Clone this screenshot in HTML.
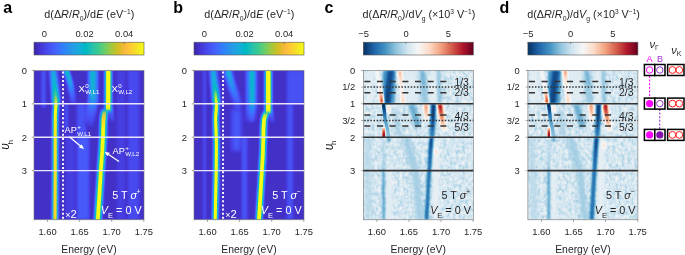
<!DOCTYPE html>
<html><head><meta charset="utf-8"><style>html,body{margin:0;padding:0;background:#fff;}svg{display:block;will-change:transform;}</style></head>
<body><svg width="685" height="255" viewBox="0 0 685 255" font-family='"Liberation Sans", sans-serif'><defs><filter id="par" x="0" y="0" width="685" height="255" filterUnits="userSpaceOnUse" color-interpolation-filters="sRGB"><feComponentTransfer><feFuncR type="table" tableValues="0.2431 0.2510 0.2588 0.2627 0.2706 0.2745 0.2784 0.2784 0.2824 0.2824 0.2784 0.2745 0.2706 0.2588 0.2431 0.2196 0.1961 0.1843 0.1804 0.1765 0.1686 0.1529 0.1451 0.1373 0.1255 0.1098 0.0941 0.0706 0.0314 0.0039 0.0078 0.0431 0.0980 0.1412 0.1725 0.1922 0.2157 0.2471 0.2902 0.3412 0.3922 0.4471 0.5059 0.5608 0.6157 0.6706 0.7255 0.7725 0.8196 0.8627 0.9020 0.9412 0.9725 0.9961 0.9961 0.9961 0.9882 0.9804 0.9686 0.9608 0.9608 0.9647 0.9686 0.9765"/><feFuncG type="table" tableValues="0.1490 0.1647 0.1804 0.1961 0.2157 0.2353 0.2549 0.2784 0.3020 0.3216 0.3451 0.3686 0.3882 0.4118 0.4353 0.4588 0.4863 0.5059 0.5294 0.5490 0.5686 0.5882 0.6078 0.6275 0.6471 0.6627 0.6784 0.6941 0.7098 0.7216 0.7294 0.7412 0.7490 0.7569 0.7686 0.7765 0.7843 0.7922 0.7961 0.8000 0.8039 0.8039 0.8000 0.7961 0.7882 0.7804 0.7686 0.7608 0.7490 0.7412 0.7333 0.7294 0.7294 0.7451 0.7647 0.7882 0.8118 0.8392 0.8627 0.8902 0.9137 0.9373 0.9608 0.9843"/><feFuncB type="table" tableValues="0.6588 0.7059 0.7529 0.7961 0.8353 0.8706 0.8980 0.9216 0.9412 0.9569 0.9725 0.9843 0.9922 0.9961 1.0000 0.9961 0.9882 0.9804 0.9686 0.9529 0.9373 0.9216 0.9098 0.8980 0.8902 0.8745 0.8588 0.8392 0.8157 0.7922 0.7647 0.7412 0.7137 0.6824 0.6549 0.6235 0.5922 0.5569 0.5176 0.4784 0.4353 0.3922 0.3490 0.3059 0.2627 0.2235 0.1922 0.1647 0.1529 0.1608 0.1765 0.2118 0.2392 0.2353 0.2196 0.2039 0.1882 0.1765 0.1647 0.1529 0.1412 0.1255 0.1059 0.0824"/></feComponentTransfer></filter><filter id="rdb" x="0" y="0" width="685" height="255" filterUnits="userSpaceOnUse" color-interpolation-filters="sRGB"><feComponentTransfer><feFuncR type="table" tableValues="0.0196 0.1294 0.2627 0.5725 0.8196 0.9686 0.9922 0.9569 0.8392 0.6980 0.4039"/><feFuncG type="table" tableValues="0.1882 0.4000 0.5765 0.7725 0.8980 0.9686 0.8588 0.6471 0.3765 0.0941 0.0000"/><feFuncB type="table" tableValues="0.3804 0.6745 0.7647 0.8706 0.9412 0.9686 0.7804 0.5098 0.3020 0.1686 0.1216"/></feComponentTransfer></filter><filter id="noise" x="0" y="0" width="685" height="255" filterUnits="userSpaceOnUse" color-interpolation-filters="sRGB"><feTurbulence type="fractalNoise" baseFrequency="0.32 0.26" numOctaves="2" seed="3"/><feColorMatrix type="matrix" values="1 0 0 0 0  1 0 0 0 0  1 0 0 0 0  0 0 0 0 0.24"/><feGaussianBlur stdDeviation="0.5"/></filter><linearGradient id="gcb" x1="0" y1="0" x2="1" y2="0"><stop offset="0" stop-color="#000"/><stop offset="1" stop-color="#fff"/></linearGradient><clipPath id="clipa"><rect x="34.00" y="70.40" width="110.00" height="149.40"/></clipPath><linearGradient id="g1" gradientUnits="userSpaceOnUse" x1="0" y1="70.40" x2="0" y2="104.00"><stop offset="0.0000" stop-color="#4c4c4c"/><stop offset="0.4048" stop-color="#404040"/><stop offset="0.7619" stop-color="#262626"/><stop offset="1.0000" stop-color="#141414"/></linearGradient><linearGradient id="g2" gradientUnits="userSpaceOnUse" x1="0" y1="70.40" x2="0" y2="104.00"><stop offset="0.0000" stop-color="#919191"/><stop offset="0.1667" stop-color="#7a7a7a"/><stop offset="0.4048" stop-color="#616161"/><stop offset="0.6428" stop-color="#404040"/><stop offset="1.0000" stop-color="#1a1a1a"/></linearGradient><linearGradient id="g3" gradientUnits="userSpaceOnUse" x1="0" y1="70.40" x2="0" y2="126.00"><stop offset="0.0000" stop-color="#4c4c4c"/><stop offset="0.5324" stop-color="#454545"/><stop offset="0.7482" stop-color="#2e2e2e"/><stop offset="1.0000" stop-color="#141414"/></linearGradient><linearGradient id="g4" gradientUnits="userSpaceOnUse" x1="0" y1="70.40" x2="0" y2="110.00"><stop offset="0.0000" stop-color="#787878"/><stop offset="0.6212" stop-color="#6e6e6e"/><stop offset="1.0000" stop-color="#333333"/></linearGradient><linearGradient id="g5" gradientUnits="userSpaceOnUse" x1="0" y1="70.40" x2="0" y2="104.00"><stop offset="0.0000" stop-color="#383838"/><stop offset="0.4345" stop-color="#4c4c4c"/><stop offset="0.7321" stop-color="#666666"/><stop offset="1.0000" stop-color="#808080"/></linearGradient><linearGradient id="g6" gradientUnits="userSpaceOnUse" x1="0" y1="70.40" x2="0" y2="104.00"><stop offset="0.0000" stop-color="#6b6b6b"/><stop offset="0.4345" stop-color="#7a7a7a"/><stop offset="0.7321" stop-color="#999999"/><stop offset="1.0000" stop-color="#a6a6a6"/></linearGradient><linearGradient id="g7" gradientUnits="userSpaceOnUse" x1="0" y1="94.00" x2="0" y2="104.50"><stop offset="0.0001" stop-color="rgb(250, 210, 50)" stop-opacity="0"/><stop offset="0.5714" stop-color="rgb(250, 210, 50)" stop-opacity="0.6"/><stop offset="0.9999" stop-color="rgb(249, 251, 21)" stop-opacity="1"/></linearGradient><linearGradient id="g8" gradientUnits="userSpaceOnUse" x1="0" y1="104.00" x2="0" y2="219.80"><stop offset="0.0000" stop-color="rgb(249, 251, 21)" stop-opacity="1"/><stop offset="0.3109" stop-color="rgb(250, 226, 40)" stop-opacity="1"/><stop offset="1.0000" stop-color="rgb(251, 210, 45)" stop-opacity="1"/></linearGradient><linearGradient id="g9" gradientUnits="userSpaceOnUse" x1="0" y1="70.40" x2="0" y2="110.50"><stop offset="0.0000" stop-color="rgb(249, 251, 21)" stop-opacity="1"/><stop offset="0.9376" stop-color="rgb(249, 251, 21)" stop-opacity="1"/><stop offset="1.0000" stop-color="rgb(249, 251, 21)" stop-opacity="0.3"/></linearGradient><linearGradient id="g10" gradientUnits="userSpaceOnUse" x1="0" y1="108.00" x2="0" y2="121.00"><stop offset="0.0001" stop-color="#595959"/><stop offset="0.9999" stop-color="#1f1f1f"/></linearGradient><linearGradient id="g11" gradientUnits="userSpaceOnUse" x1="0" y1="110.00" x2="0" y2="219.80"><stop offset="0.0000" stop-color="#4c4c4c"/><stop offset="0.0364" stop-color="#808080"/><stop offset="0.0911" stop-color="#8c8c8c"/><stop offset="1.0000" stop-color="#8c8c8c"/></linearGradient><linearGradient id="g12" gradientUnits="userSpaceOnUse" x1="0" y1="110.00" x2="0" y2="219.80"><stop offset="0.0000" stop-color="#666666"/><stop offset="0.0273" stop-color="#999999"/><stop offset="1.0000" stop-color="#999999"/></linearGradient><linearGradient id="g13" gradientUnits="userSpaceOnUse" x1="0" y1="110.00" x2="0" y2="219.80"><stop offset="0.0000" stop-color="rgb(250, 200, 50)" stop-opacity="0"/><stop offset="0.0273" stop-color="rgb(250, 200, 50)" stop-opacity="0.6"/><stop offset="0.0729" stop-color="rgb(252, 212, 45)" stop-opacity="1"/><stop offset="0.1822" stop-color="rgb(249, 251, 21)" stop-opacity="1"/><stop offset="1.0000" stop-color="rgb(249, 251, 21)" stop-opacity="1"/></linearGradient><clipPath id="clipb"><rect x="194.00" y="70.40" width="110.00" height="149.40"/></clipPath><linearGradient id="g14" gradientUnits="userSpaceOnUse" x1="0" y1="70.40" x2="0" y2="110.00"><stop offset="0.0000" stop-color="#4c4c4c"/><stop offset="0.3687" stop-color="#424242"/><stop offset="0.7475" stop-color="#292929"/><stop offset="1.0000" stop-color="#141414"/></linearGradient><linearGradient id="g15" gradientUnits="userSpaceOnUse" x1="0" y1="70.40" x2="0" y2="110.00"><stop offset="0.0000" stop-color="#808080"/><stop offset="0.2424" stop-color="#616161"/><stop offset="0.7475" stop-color="#333333"/><stop offset="1.0000" stop-color="#1f1f1f"/></linearGradient><linearGradient id="g16" gradientUnits="userSpaceOnUse" x1="0" y1="70.40" x2="0" y2="122.00"><stop offset="0.0000" stop-color="#4c4c4c"/><stop offset="0.5736" stop-color="#474747"/><stop offset="0.7674" stop-color="#333333"/><stop offset="1.0000" stop-color="#141414"/></linearGradient><linearGradient id="g17" gradientUnits="userSpaceOnUse" x1="0" y1="70.40" x2="0" y2="122.00"><stop offset="0.0000" stop-color="#7a7a7a"/><stop offset="0.5736" stop-color="#737373"/><stop offset="0.7674" stop-color="#4c4c4c"/><stop offset="1.0000" stop-color="#1f1f1f"/></linearGradient><linearGradient id="g18" gradientUnits="userSpaceOnUse" x1="0" y1="70.40" x2="0" y2="104.00"><stop offset="0.0000" stop-color="#383838"/><stop offset="0.4345" stop-color="#4c4c4c"/><stop offset="0.7321" stop-color="#666666"/><stop offset="1.0000" stop-color="#808080"/></linearGradient><linearGradient id="g19" gradientUnits="userSpaceOnUse" x1="0" y1="70.40" x2="0" y2="104.00"><stop offset="0.0000" stop-color="#6b6b6b"/><stop offset="0.4345" stop-color="#7a7a7a"/><stop offset="0.7321" stop-color="#999999"/><stop offset="1.0000" stop-color="#a6a6a6"/></linearGradient><linearGradient id="g20" gradientUnits="userSpaceOnUse" x1="0" y1="90.00" x2="0" y2="104.50"><stop offset="0.0001" stop-color="rgb(249, 251, 21)" stop-opacity="0"/><stop offset="0.4828" stop-color="rgb(249, 251, 21)" stop-opacity="0.6"/><stop offset="0.9999" stop-color="rgb(249, 251, 21)" stop-opacity="1"/></linearGradient><linearGradient id="g21" gradientUnits="userSpaceOnUse" x1="0" y1="104.00" x2="0" y2="219.80"><stop offset="0.0000" stop-color="rgb(249, 251, 21)" stop-opacity="1"/><stop offset="1.0000" stop-color="rgb(249, 251, 21)" stop-opacity="1"/></linearGradient><linearGradient id="g22" gradientUnits="userSpaceOnUse" x1="0" y1="70.40" x2="0" y2="113.00"><stop offset="0.0000" stop-color="rgb(249, 251, 21)" stop-opacity="1"/><stop offset="0.9296" stop-color="rgb(249, 251, 21)" stop-opacity="1"/><stop offset="1.0000" stop-color="rgb(249, 251, 21)" stop-opacity="0.3"/></linearGradient><linearGradient id="g23" gradientUnits="userSpaceOnUse" x1="0" y1="110.00" x2="0" y2="122.00"><stop offset="0.0001" stop-color="#595959"/><stop offset="0.9999" stop-color="#1f1f1f"/></linearGradient><linearGradient id="g24" gradientUnits="userSpaceOnUse" x1="0" y1="112.00" x2="0" y2="219.80"><stop offset="0.0000" stop-color="#666666"/><stop offset="0.0371" stop-color="#8c8c8c"/><stop offset="1.0000" stop-color="#999999"/></linearGradient><linearGradient id="g25" gradientUnits="userSpaceOnUse" x1="0" y1="112.00" x2="0" y2="219.80"><stop offset="0.0000" stop-color="#737373"/><stop offset="0.0278" stop-color="#999999"/><stop offset="1.0000" stop-color="#999999"/></linearGradient><linearGradient id="g26" gradientUnits="userSpaceOnUse" x1="0" y1="112.00" x2="0" y2="219.80"><stop offset="0.0000" stop-color="rgb(249, 251, 21)" stop-opacity="0"/><stop offset="0.0278" stop-color="rgb(249, 251, 21)" stop-opacity="0.6"/><stop offset="0.0649" stop-color="rgb(249, 251, 21)" stop-opacity="1"/><stop offset="1.0000" stop-color="rgb(249, 251, 21)" stop-opacity="1"/></linearGradient><clipPath id="clipc"><rect x="363.30" y="70.40" width="110.00" height="149.40"/></clipPath><linearGradient id="g27" gradientUnits="userSpaceOnUse" x1="0" y1="70.40" x2="0" y2="103.50"><stop offset="0.0000" stop-color="#333333"/><stop offset="0.9849" stop-color="#383838"/></linearGradient><linearGradient id="g28" gradientUnits="userSpaceOnUse" x1="0" y1="70.40" x2="0" y2="103.50"><stop offset="0.0000" stop-color="#0f0f0f"/><stop offset="0.4411" stop-color="#0d0d0d"/><stop offset="0.9849" stop-color="#0a0a0a"/></linearGradient><linearGradient id="g29" gradientUnits="userSpaceOnUse" x1="0" y1="70.40" x2="0" y2="103.50"><stop offset="0.0000" stop-color="#878787"/><stop offset="0.2900" stop-color="#808080"/><stop offset="0.5317" stop-color="#878787"/><stop offset="0.7130" stop-color="#b2b2b2"/><stop offset="0.8640" stop-color="#dbdbdb"/><stop offset="0.9849" stop-color="#ebebeb"/></linearGradient><linearGradient id="g30" gradientUnits="userSpaceOnUse" x1="0" y1="70.40" x2="0" y2="103.50"><stop offset="0.0000" stop-color="#b2b2b2"/><stop offset="0.2296" stop-color="#9e9e9e"/><stop offset="0.5317" stop-color="#878787"/><stop offset="0.9849" stop-color="#a1a1a1"/></linearGradient><linearGradient id="g31" gradientUnits="userSpaceOnUse" x1="0" y1="104.00" x2="0" y2="137.00"><stop offset="0.0000" stop-color="#000000"/><stop offset="0.1515" stop-color="#080808"/><stop offset="0.3333" stop-color="#212121"/><stop offset="0.5152" stop-color="#383838"/><stop offset="0.7879" stop-color="#454545"/><stop offset="1.0000" stop-color="#4c4c4c"/></linearGradient><linearGradient id="g32" gradientUnits="userSpaceOnUse" x1="0" y1="105.00" x2="0" y2="113.00"><stop offset="0.0001" stop-color="#a3a3a3"/><stop offset="0.9999" stop-color="#8c8c8c"/></linearGradient><linearGradient id="g33" gradientUnits="userSpaceOnUse" x1="0" y1="127.00" x2="0" y2="137.50"><stop offset="0.0000" stop-color="#737373"/><stop offset="0.1905" stop-color="#b2b2b2"/><stop offset="0.5714" stop-color="#e0e0e0"/><stop offset="0.9523" stop-color="#f2f2f2"/></linearGradient><linearGradient id="g34" gradientUnits="userSpaceOnUse" x1="0" y1="104.00" x2="0" y2="122.00"><stop offset="0.0001" stop-color="#b8b8b8"/><stop offset="0.4445" stop-color="#a8a8a8"/><stop offset="0.9999" stop-color="#787878"/></linearGradient><linearGradient id="g35" gradientUnits="userSpaceOnUse" x1="0" y1="104.00" x2="0" y2="137.00"><stop offset="0.0000" stop-color="#050505"/><stop offset="0.4242" stop-color="#080808"/><stop offset="0.7273" stop-color="#1a1a1a"/><stop offset="1.0000" stop-color="#2b2b2b"/></linearGradient><linearGradient id="g36" gradientUnits="userSpaceOnUse" x1="0" y1="104.00" x2="0" y2="132.00"><stop offset="0.0000" stop-color="#ededed"/><stop offset="0.2143" stop-color="#dedede"/><stop offset="0.4286" stop-color="#c2c2c2"/><stop offset="0.7143" stop-color="#a3a3a3"/><stop offset="1.0000" stop-color="#808080"/></linearGradient><linearGradient id="g37" gradientUnits="userSpaceOnUse" x1="0" y1="137.50" x2="0" y2="219.80"><stop offset="0.0061" stop-color="#050505"/><stop offset="0.1519" stop-color="#0d0d0d"/><stop offset="0.3949" stop-color="#1f1f1f"/><stop offset="0.6987" stop-color="#1f1f1f"/><stop offset="1.0000" stop-color="#1c1c1c"/></linearGradient><linearGradient id="g38" gradientUnits="userSpaceOnUse" x1="0" y1="140.00" x2="0" y2="219.80"><stop offset="0.0000" stop-color="#5c5c5c"/><stop offset="0.3133" stop-color="#525252"/><stop offset="0.4386" stop-color="#333333"/><stop offset="1.0000" stop-color="#333333"/></linearGradient><clipPath id="clipd"><rect x="527.90" y="70.40" width="110.00" height="149.40"/></clipPath><linearGradient id="g39" gradientUnits="userSpaceOnUse" x1="0" y1="70.40" x2="0" y2="103.50"><stop offset="0.0000" stop-color="#333333"/><stop offset="0.9849" stop-color="#383838"/></linearGradient><linearGradient id="g40" gradientUnits="userSpaceOnUse" x1="0" y1="70.40" x2="0" y2="103.50"><stop offset="0.0000" stop-color="#0f0f0f"/><stop offset="0.4411" stop-color="#0d0d0d"/><stop offset="0.9849" stop-color="#0a0a0a"/></linearGradient><linearGradient id="g41" gradientUnits="userSpaceOnUse" x1="0" y1="70.40" x2="0" y2="103.50"><stop offset="0.0000" stop-color="#878787"/><stop offset="0.2900" stop-color="#808080"/><stop offset="0.5317" stop-color="#878787"/><stop offset="0.7130" stop-color="#b2b2b2"/><stop offset="0.8640" stop-color="#dbdbdb"/><stop offset="0.9849" stop-color="#ebebeb"/></linearGradient><linearGradient id="g42" gradientUnits="userSpaceOnUse" x1="0" y1="70.40" x2="0" y2="103.50"><stop offset="0.0000" stop-color="#c7c7c7"/><stop offset="0.2296" stop-color="#9e9e9e"/><stop offset="0.5317" stop-color="#878787"/><stop offset="0.9849" stop-color="#a1a1a1"/></linearGradient><linearGradient id="g43" gradientUnits="userSpaceOnUse" x1="0" y1="104.00" x2="0" y2="137.00"><stop offset="0.0000" stop-color="#000000"/><stop offset="0.1515" stop-color="#080808"/><stop offset="0.3333" stop-color="#212121"/><stop offset="0.5152" stop-color="#383838"/><stop offset="0.7879" stop-color="#454545"/><stop offset="1.0000" stop-color="#4c4c4c"/></linearGradient><linearGradient id="g44" gradientUnits="userSpaceOnUse" x1="0" y1="105.00" x2="0" y2="113.00"><stop offset="0.0001" stop-color="#a3a3a3"/><stop offset="0.9999" stop-color="#8c8c8c"/></linearGradient><linearGradient id="g45" gradientUnits="userSpaceOnUse" x1="0" y1="127.00" x2="0" y2="137.50"><stop offset="0.0000" stop-color="#737373"/><stop offset="0.1905" stop-color="#b2b2b2"/><stop offset="0.5714" stop-color="#e0e0e0"/><stop offset="0.9523" stop-color="#f2f2f2"/></linearGradient><linearGradient id="g46" gradientUnits="userSpaceOnUse" x1="0" y1="104.00" x2="0" y2="122.00"><stop offset="0.0001" stop-color="#bdbdbd"/><stop offset="0.4445" stop-color="#a8a8a8"/><stop offset="0.9999" stop-color="#787878"/></linearGradient><linearGradient id="g47" gradientUnits="userSpaceOnUse" x1="0" y1="104.00" x2="0" y2="137.00"><stop offset="0.0000" stop-color="#050505"/><stop offset="0.4242" stop-color="#080808"/><stop offset="0.7273" stop-color="#1a1a1a"/><stop offset="1.0000" stop-color="#2b2b2b"/></linearGradient><linearGradient id="g48" gradientUnits="userSpaceOnUse" x1="0" y1="104.00" x2="0" y2="132.00"><stop offset="0.0000" stop-color="#ededed"/><stop offset="0.2143" stop-color="#dedede"/><stop offset="0.4286" stop-color="#c2c2c2"/><stop offset="0.7143" stop-color="#a3a3a3"/><stop offset="1.0000" stop-color="#808080"/></linearGradient><linearGradient id="g49" gradientUnits="userSpaceOnUse" x1="0" y1="137.50" x2="0" y2="219.80"><stop offset="0.0061" stop-color="#050505"/><stop offset="0.1519" stop-color="#0d0d0d"/><stop offset="0.3949" stop-color="#1f1f1f"/><stop offset="0.6987" stop-color="#1f1f1f"/><stop offset="1.0000" stop-color="#1c1c1c"/></linearGradient><linearGradient id="g50" gradientUnits="userSpaceOnUse" x1="0" y1="140.00" x2="0" y2="219.80"><stop offset="0.0000" stop-color="#5c5c5c"/><stop offset="0.3133" stop-color="#525252"/><stop offset="0.4386" stop-color="#333333"/><stop offset="1.0000" stop-color="#333333"/></linearGradient><filter id="b0_55" x="0" y="0" width="685" height="255" filterUnits="userSpaceOnUse" color-interpolation-filters="sRGB"><feGaussianBlur stdDeviation="0.55"/></filter><filter id="b0_6" x="0" y="0" width="685" height="255" filterUnits="userSpaceOnUse" color-interpolation-filters="sRGB"><feGaussianBlur stdDeviation="0.6"/></filter><filter id="b0_75" x="0" y="0" width="685" height="255" filterUnits="userSpaceOnUse" color-interpolation-filters="sRGB"><feGaussianBlur stdDeviation="0.75"/></filter><filter id="b0_8" x="0" y="0" width="685" height="255" filterUnits="userSpaceOnUse" color-interpolation-filters="sRGB"><feGaussianBlur stdDeviation="0.8"/></filter><filter id="b0_9" x="0" y="0" width="685" height="255" filterUnits="userSpaceOnUse" color-interpolation-filters="sRGB"><feGaussianBlur stdDeviation="0.9"/></filter><filter id="b1_0" x="0" y="0" width="685" height="255" filterUnits="userSpaceOnUse" color-interpolation-filters="sRGB"><feGaussianBlur stdDeviation="1.0"/></filter><filter id="b1_1" x="0" y="0" width="685" height="255" filterUnits="userSpaceOnUse" color-interpolation-filters="sRGB"><feGaussianBlur stdDeviation="1.1"/></filter><filter id="b1_2" x="0" y="0" width="685" height="255" filterUnits="userSpaceOnUse" color-interpolation-filters="sRGB"><feGaussianBlur stdDeviation="1.2"/></filter><filter id="b1_3" x="0" y="0" width="685" height="255" filterUnits="userSpaceOnUse" color-interpolation-filters="sRGB"><feGaussianBlur stdDeviation="1.3"/></filter><filter id="b1_4" x="0" y="0" width="685" height="255" filterUnits="userSpaceOnUse" color-interpolation-filters="sRGB"><feGaussianBlur stdDeviation="1.4"/></filter><filter id="b1_5" x="0" y="0" width="685" height="255" filterUnits="userSpaceOnUse" color-interpolation-filters="sRGB"><feGaussianBlur stdDeviation="1.5"/></filter><filter id="b1_8" x="0" y="0" width="685" height="255" filterUnits="userSpaceOnUse" color-interpolation-filters="sRGB"><feGaussianBlur stdDeviation="1.8"/></filter><filter id="b2_0" x="0" y="0" width="685" height="255" filterUnits="userSpaceOnUse" color-interpolation-filters="sRGB"><feGaussianBlur stdDeviation="2.0"/></filter><filter id="b2_6" x="0" y="0" width="685" height="255" filterUnits="userSpaceOnUse" color-interpolation-filters="sRGB"><feGaussianBlur stdDeviation="2.6"/></filter></defs><rect width="685" height="255" fill="#fff"/><g clip-path="url(#clipa)"><g filter="url(#par)"><rect x="34.00" y="70.40" width="110.00" height="149.40" fill="#0b0b0b"/><rect x="41.50" y="70.40" width="4.00" height="36.74" fill="#292929" filter="url(#b1_0)"/><rect x="117.00" y="70.40" width="8.00" height="149.40" fill="#171717" filter="url(#b1_5)"/><rect x="128.00" y="70.40" width="11.00" height="149.40" fill="#1f1f1f" filter="url(#b1_5)"/><rect x="77.00" y="133.86" width="12.00" height="85.94" fill="#2b2b2b" filter="url(#b1_8)"/><rect x="66.00" y="133.86" width="9.00" height="85.94" fill="#171717" filter="url(#b1_8)"/><rect x="77.00" y="103.80" width="9.00" height="30.06" fill="#262626" filter="url(#b1_5)"/><rect x="64.70" y="103.80" width="3.30" height="26.72" fill="#242424" filter="url(#b1_0)"/><path d="M65.50,70.40 L68.00,76.00 L70.20,84.00 L72.40,96.00 L73.50,104.00" fill="none" stroke="url(#g1)" stroke-width="6" stroke-linecap="butt" stroke-linejoin="round" filter="url(#b1_3)"/><path d="M66.30,70.40 L68.60,76.00 L70.60,84.00 L72.40,96.00 L73.50,104.00" fill="none" stroke="url(#g2)" stroke-width="3" stroke-linecap="butt" stroke-linejoin="round" filter="url(#b0_8)"/><path d="M93.00,70.40 L93.00,100.00 L91.00,112.00 L88.00,126.00" fill="none" stroke="url(#g3)" stroke-width="10" stroke-linecap="butt" stroke-linejoin="round" filter="url(#b1_3)"/><path d="M92.80,70.40 L92.80,100.00 L91.80,110.00" fill="none" stroke="url(#g4)" stroke-width="4" stroke-linecap="butt" stroke-linejoin="round" filter="url(#b0_9)"/><path d="M53.20,70.40 L54.00,80.00 L55.00,90.00 L55.80,100.00 L56.00,104.00" fill="none" stroke="url(#g5)" stroke-width="8" stroke-linecap="butt" stroke-linejoin="round" filter="url(#b1_3)"/><path d="M53.20,70.40 L54.00,80.00 L55.00,90.00 L55.80,100.00 L56.00,104.00" fill="none" stroke="url(#g6)" stroke-width="3.6" stroke-linecap="butt" stroke-linejoin="round" filter="url(#b0_9)"/><path d="M56.00,104.00 L55.30,115.00 L55.20,137.00 L55.20,170.00 L55.00,219.80" fill="none" stroke="#999999" stroke-width="5.5" stroke-linecap="butt" stroke-linejoin="round" filter="url(#b1_0)"/><path d="M108.30,70.40 L108.30,108.00 L108.80,112.00" fill="none" stroke="#949494" stroke-width="7" stroke-linecap="butt" stroke-linejoin="round" filter="url(#b0_9)"/><path d="M110.00,108.00 L111.50,114.00 L112.50,121.00" fill="none" stroke="url(#g10)" stroke-width="3" stroke-linecap="butt" stroke-linejoin="round" filter="url(#b1_5)"/><path d="M105.00,110.00 L104.20,114.00 L103.50,120.00 L103.20,127.00 L103.00,137.00 L102.20,152.00 L101.00,168.00 L99.70,190.00 L97.80,219.80" fill="none" stroke="url(#g11)" stroke-width="7" stroke-linecap="butt" stroke-linejoin="round" filter="url(#b1_1)"/><path d="M105.00,110.00 L104.20,114.00 L103.50,120.00 L103.20,127.00 L103.00,137.00 L102.20,152.00 L101.00,168.00 L99.70,190.00 L97.80,219.80" fill="none" stroke="url(#g12)" stroke-width="4" stroke-linecap="butt" stroke-linejoin="round" filter="url(#b0_8)"/></g><path d="M55.30,94.00 L55.80,100.00 L56.00,104.50" fill="none" stroke="url(#g7)" stroke-width="2.6" stroke-linecap="butt" stroke-linejoin="round" filter="url(#b0_6)"/><path d="M56.00,104.00 L55.30,115.00 L55.20,137.00 L55.20,170.00 L55.00,219.80" fill="none" stroke="url(#g8)" stroke-width="3.0" stroke-linecap="butt" stroke-linejoin="round" filter="url(#b0_55)"/><path d="M108.30,70.40 L108.20,108.00 L108.20,110.50" fill="none" stroke="url(#g9)" stroke-width="4.2" stroke-linecap="butt" stroke-linejoin="round" filter="url(#b0_6)"/><path d="M105.00,110.00 L104.20,114.00 L103.50,120.00 L103.20,127.00 L103.00,137.00 L102.20,152.00 L101.00,168.00 L99.70,190.00 L97.80,219.80" fill="none" stroke="url(#g13)" stroke-width="3.6" stroke-linecap="butt" stroke-linejoin="round" filter="url(#b0_55)"/></g><g filter="url(#par)"><rect x="34.00" y="42.2" width="110.00" height="12.8" fill="url(#gcb)"/></g><rect x="34.00" y="42.2" width="110.00" height="12.8" fill="none" stroke="#555" stroke-width="0.6"/><line x1="44.40" y1="42.2" x2="44.40" y2="44" stroke="#555" stroke-width="0.6"/><text x="44.40" y="37.10" font-size="9.4" text-anchor="middle" fill="#231f20">0</text><line x1="84.50" y1="42.2" x2="84.50" y2="44" stroke="#555" stroke-width="0.6"/><text x="84.50" y="37.10" font-size="9.4" text-anchor="middle" fill="#231f20">0.02</text><line x1="124.20" y1="42.2" x2="124.20" y2="44" stroke="#555" stroke-width="0.6"/><text x="124.20" y="37.10" font-size="9.4" text-anchor="middle" fill="#231f20">0.04</text><rect x="34.00" y="70.40" width="110.00" height="149.40" fill="none" stroke="#6d6e71" stroke-width="0.6"/><line x1="47.50" y1="219.80" x2="47.50" y2="222.00" stroke="#6d6e71" stroke-width="0.6"/><text x="47.50" y="234.60" font-size="9.4" text-anchor="middle" fill="#231f20">1.60</text><line x1="79.60" y1="219.80" x2="79.60" y2="222.00" stroke="#6d6e71" stroke-width="0.6"/><text x="79.60" y="234.60" font-size="9.4" text-anchor="middle" fill="#231f20">1.65</text><line x1="111.70" y1="219.80" x2="111.70" y2="222.00" stroke="#6d6e71" stroke-width="0.6"/><text x="111.70" y="234.60" font-size="9.4" text-anchor="middle" fill="#231f20">1.70</text><line x1="143.80" y1="219.80" x2="143.80" y2="222.00" stroke="#6d6e71" stroke-width="0.6"/><text x="143.80" y="234.60" font-size="9.4" text-anchor="middle" fill="#231f20">1.75</text><text x="89.00" y="252.50" font-size="10.4" text-anchor="middle" fill="#231f20">Energy (eV)</text><text x="44.30" y="18.4" font-size="10.8" fill="#231f20">d(Δ<tspan font-style="italic">R</tspan>/<tspan font-style="italic">R</tspan><tspan font-size="6.8" dy="3">0</tspan><tspan dy="-3">)/d</tspan><tspan font-style="italic">E</tspan> (eV<tspan font-size="6.6" dy="-4.6">−1</tspan><tspan dy="4.6">)</tspan></text><text x="3.3" y="12.8" font-size="16" font-weight="bold" fill="#000">a</text><g clip-path="url(#clipb)"><g filter="url(#par)"><rect x="194.00" y="70.40" width="110.00" height="149.40" fill="#0b0b0b"/><rect x="203.40" y="70.40" width="2.40" height="149.40" fill="#262626" filter="url(#b1_0)"/><rect x="287.00" y="70.40" width="17.00" height="33.40" fill="#242424" filter="url(#b1_5)"/><rect x="287.00" y="103.80" width="6.00" height="116.00" fill="#242424" filter="url(#b1_5)"/><rect x="232.00" y="108.81" width="9.00" height="41.75" fill="#2b2b2b" filter="url(#b2_0)"/><rect x="242.00" y="137.20" width="5.00" height="82.60" fill="#292929" filter="url(#b1_5)"/><path d="M227.50,70.40 L231.50,85.00 L236.70,100.00 L238.00,110.00" fill="none" stroke="url(#g14)" stroke-width="8" stroke-linecap="butt" stroke-linejoin="round" filter="url(#b1_4)"/><path d="M228.00,70.40 L232.00,85.00 L236.70,100.00 L238.00,110.00" fill="none" stroke="url(#g15)" stroke-width="3.0" stroke-linecap="butt" stroke-linejoin="round" filter="url(#b0_9)"/><path d="M251.50,70.40 L251.50,105.00 L250.50,122.00" fill="none" stroke="url(#g16)" stroke-width="10" stroke-linecap="butt" stroke-linejoin="round" filter="url(#b1_4)"/><path d="M252.20,70.40 L252.20,105.00 L251.50,122.00" fill="none" stroke="url(#g17)" stroke-width="4" stroke-linecap="butt" stroke-linejoin="round" filter="url(#b0_9)"/><path d="M213.20,70.40 L214.00,80.00 L215.20,90.00 L216.00,100.00 L216.60,104.00" fill="none" stroke="url(#g18)" stroke-width="8" stroke-linecap="butt" stroke-linejoin="round" filter="url(#b1_3)"/><path d="M213.20,70.40 L214.00,80.00 L215.20,90.00 L216.00,100.00 L216.60,104.00" fill="none" stroke="url(#g19)" stroke-width="3.6" stroke-linecap="butt" stroke-linejoin="round" filter="url(#b0_9)"/><path d="M216.60,104.00 L215.60,118.00 L216.00,130.00 L216.40,145.00 L216.20,170.00 L215.20,219.80" fill="none" stroke="#999999" stroke-width="5.5" stroke-linecap="butt" stroke-linejoin="round" filter="url(#b1_0)"/><path d="M268.30,70.40 L268.30,111.00 L268.80,114.00" fill="none" stroke="#949494" stroke-width="7" stroke-linecap="butt" stroke-linejoin="round" filter="url(#b0_9)"/><path d="M270.00,110.00 L271.50,116.00 L272.50,122.00" fill="none" stroke="url(#g23)" stroke-width="3" stroke-linecap="butt" stroke-linejoin="round" filter="url(#b1_5)"/><path d="M266.50,112.00 L265.00,116.00 L264.00,120.00 L263.50,128.00 L263.40,137.00 L262.80,155.00 L261.30,180.00 L259.00,219.80" fill="none" stroke="url(#g24)" stroke-width="6" stroke-linecap="butt" stroke-linejoin="round" filter="url(#b1_0)"/><path d="M266.50,112.00 L265.00,116.00 L264.00,120.00 L263.50,128.00 L263.40,137.00 L262.80,155.00 L261.30,180.00 L259.00,219.80" fill="none" stroke="url(#g25)" stroke-width="4" stroke-linecap="butt" stroke-linejoin="round" filter="url(#b0_8)"/></g><path d="M215.20,90.00 L216.00,100.00 L216.60,104.50" fill="none" stroke="url(#g20)" stroke-width="2.6" stroke-linecap="butt" stroke-linejoin="round" filter="url(#b0_6)"/><path d="M216.60,104.00 L215.60,118.00 L216.00,130.00 L216.40,145.00 L216.20,170.00 L215.20,219.80" fill="none" stroke="url(#g21)" stroke-width="3.0" stroke-linecap="butt" stroke-linejoin="round" filter="url(#b0_55)"/><path d="M268.30,70.40 L268.30,110.00 L268.30,113.00" fill="none" stroke="url(#g22)" stroke-width="4.4" stroke-linecap="butt" stroke-linejoin="round" filter="url(#b0_6)"/><path d="M266.50,112.00 L265.00,116.00 L264.00,120.00 L263.50,128.00 L263.40,137.00 L262.80,155.00 L261.30,180.00 L259.00,219.80" fill="none" stroke="url(#g26)" stroke-width="3.6" stroke-linecap="butt" stroke-linejoin="round" filter="url(#b0_55)"/></g><g filter="url(#par)"><rect x="194.00" y="42.2" width="110.00" height="12.8" fill="url(#gcb)"/></g><rect x="194.00" y="42.2" width="110.00" height="12.8" fill="none" stroke="#555" stroke-width="0.6"/><line x1="204.40" y1="42.2" x2="204.40" y2="44" stroke="#555" stroke-width="0.6"/><text x="204.40" y="37.10" font-size="9.4" text-anchor="middle" fill="#231f20">0</text><line x1="244.50" y1="42.2" x2="244.50" y2="44" stroke="#555" stroke-width="0.6"/><text x="244.50" y="37.10" font-size="9.4" text-anchor="middle" fill="#231f20">0.02</text><line x1="284.20" y1="42.2" x2="284.20" y2="44" stroke="#555" stroke-width="0.6"/><text x="284.20" y="37.10" font-size="9.4" text-anchor="middle" fill="#231f20">0.04</text><rect x="194.00" y="70.40" width="110.00" height="149.40" fill="none" stroke="#6d6e71" stroke-width="0.6"/><line x1="207.50" y1="219.80" x2="207.50" y2="222.00" stroke="#6d6e71" stroke-width="0.6"/><text x="207.50" y="234.60" font-size="9.4" text-anchor="middle" fill="#231f20">1.60</text><line x1="239.60" y1="219.80" x2="239.60" y2="222.00" stroke="#6d6e71" stroke-width="0.6"/><text x="239.60" y="234.60" font-size="9.4" text-anchor="middle" fill="#231f20">1.65</text><line x1="271.70" y1="219.80" x2="271.70" y2="222.00" stroke="#6d6e71" stroke-width="0.6"/><text x="271.70" y="234.60" font-size="9.4" text-anchor="middle" fill="#231f20">1.70</text><line x1="303.80" y1="219.80" x2="303.80" y2="222.00" stroke="#6d6e71" stroke-width="0.6"/><text x="303.80" y="234.60" font-size="9.4" text-anchor="middle" fill="#231f20">1.75</text><text x="249.00" y="252.50" font-size="10.4" text-anchor="middle" fill="#231f20">Energy (eV)</text><text x="204.30" y="18.4" font-size="10.8" fill="#231f20">d(Δ<tspan font-style="italic">R</tspan>/<tspan font-style="italic">R</tspan><tspan font-size="6.8" dy="3">0</tspan><tspan dy="-3">)/d</tspan><tspan font-style="italic">E</tspan> (eV<tspan font-size="6.6" dy="-4.6">−1</tspan><tspan dy="4.6">)</tspan></text><text x="173.3" y="12.8" font-size="16" font-weight="bold" fill="#000">b</text><g clip-path="url(#clipc)"><g filter="url(#rdb)"><rect x="363.30" y="70.40" width="110.00" height="149.40" fill="#626262"/><rect x="363.30" y="70.40" width="110.00" height="149.40" filter="url(#noise)"/><rect x="365.30" y="70.40" width="8.00" height="33.40" fill="#737373" filter="url(#b2_0)"/><path d="M421.30,70.40 L425.30,103.80" fill="none" stroke="#4c4c4c" stroke-width="7" stroke-linecap="butt" stroke-linejoin="round" filter="url(#b2_0)"/><path d="M422.30,70.40 L424.30,85.00" fill="none" stroke="#424242" stroke-width="3" stroke-linecap="butt" stroke-linejoin="round" filter="url(#b1_2)"/><path d="M437.80,70.40 L439.80,103.80" fill="none" stroke="#4c4c4c" stroke-width="5" stroke-linecap="butt" stroke-linejoin="round" filter="url(#b1_8)"/><rect x="430.30" y="70.40" width="6.00" height="33.40" fill="#737373" filter="url(#b1_5)"/><rect x="403.30" y="70.40" width="14.00" height="33.40" fill="#707070" filter="url(#b2_0)"/><rect x="386.30" y="167.26" width="5.50" height="52.54" fill="#737373" filter="url(#b1_8)"/><rect x="433.00" y="138.87" width="6.30" height="80.93" fill="#757575" filter="url(#b1_8)"/><path d="M405.30,137.20 L415.30,170.60" fill="none" stroke="#525252" stroke-width="8" stroke-linecap="butt" stroke-linejoin="round" filter="url(#b2_6)"/><path d="M415.30,170.60 L420.30,219.80" fill="none" stroke="#525252" stroke-width="7" stroke-linecap="butt" stroke-linejoin="round" filter="url(#b2_0)"/><path d="M411.30,103.80 L418.30,127.18" fill="none" stroke="#404040" stroke-width="7" stroke-linecap="butt" stroke-linejoin="round" filter="url(#b1_8)"/><path d="M367.30,137.20 L369.30,219.80" fill="none" stroke="#5c5c5c" stroke-width="6" stroke-linecap="butt" stroke-linejoin="round" filter="url(#b2_0)"/><path d="M395.30,110.48 L399.30,137.20" fill="none" stroke="#545454" stroke-width="5" stroke-linecap="butt" stroke-linejoin="round" filter="url(#b2_0)"/><path d="M389.30,70.40 L388.80,90.00 L388.30,103.50" fill="none" stroke="url(#g27)" stroke-width="13" stroke-linecap="butt" stroke-linejoin="round" filter="url(#b1_2)"/><path d="M390.90,70.40 L388.90,85.00 L387.30,103.50" fill="none" stroke="url(#g28)" stroke-width="6.5" stroke-linecap="butt" stroke-linejoin="round" filter="url(#b0_9)"/><path d="M376.70,70.40 L378.30,80.00 L379.80,88.00 L381.30,96.00 L382.00,103.50" fill="none" stroke="url(#g29)" stroke-width="3.6" stroke-linecap="butt" stroke-linejoin="round" filter="url(#b0_9)"/><path d="M400.00,70.40 L400.60,80.00 L401.80,90.00 L403.30,103.50" fill="none" stroke="url(#g30)" stroke-width="4" stroke-linecap="butt" stroke-linejoin="round" filter="url(#b1_0)"/><path d="M383.40,104.00 L384.50,112.00 L385.20,120.00 L387.20,128.00 L388.90,137.00" fill="none" stroke="url(#g31)" stroke-width="3.4" stroke-linecap="butt" stroke-linejoin="round" filter="url(#b0_75)"/><path d="M388.60,105.00 L389.10,113.00" fill="none" stroke="url(#g32)" stroke-width="3" stroke-linecap="butt" stroke-linejoin="round" filter="url(#b0_9)"/><path d="M383.50,127.00 L383.70,137.50" fill="none" stroke="url(#g33)" stroke-width="2.8" stroke-linecap="butt" stroke-linejoin="round" filter="url(#b0_75)"/><path d="M425.90,104.00 L426.30,112.00 L426.80,122.00" fill="none" stroke="url(#g34)" stroke-width="5" stroke-linecap="butt" stroke-linejoin="round" filter="url(#b1_0)"/><path d="M433.50,104.00 L432.70,125.00 L431.90,137.00" fill="none" stroke="url(#g35)" stroke-width="5" stroke-linecap="butt" stroke-linejoin="round" filter="url(#b0_8)"/><path d="M439.90,104.00 L441.50,116.00 L443.80,127.00 L444.80,132.00" fill="none" stroke="url(#g36)" stroke-width="5.2" stroke-linecap="butt" stroke-linejoin="round" filter="url(#b0_9)"/><path d="M431.50,137.50 L430.50,150.00 L429.30,170.00 L427.80,195.00 L426.50,219.80" fill="none" stroke="url(#g37)" stroke-width="4" stroke-linecap="butt" stroke-linejoin="round" filter="url(#b0_8)"/><path d="M388.30,137.50 L388.80,142.00" fill="none" stroke="#333333" stroke-width="3" stroke-linecap="butt" stroke-linejoin="round" filter="url(#b0_8)"/><path d="M383.50,140.00 L383.50,165.00 L383.60,219.80" fill="none" stroke="url(#g38)" stroke-width="2.6" stroke-linecap="butt" stroke-linejoin="round" filter="url(#b0_8)"/><rect x="434.70" y="148.60" width="3.30" height="6.90" fill="#949494" filter="url(#b1_0)"/></g></g><g filter="url(#rdb)"><rect x="363.30" y="42.2" width="110.00" height="12.8" fill="url(#gcb)"/></g><rect x="363.30" y="42.2" width="110.00" height="12.8" fill="none" stroke="#555" stroke-width="0.6"/><line x1="363.60" y1="42.2" x2="363.60" y2="44" stroke="#555" stroke-width="0.6"/><text x="363.60" y="37.10" font-size="9.4" text-anchor="middle" fill="#231f20">−5</text><line x1="406.00" y1="42.2" x2="406.00" y2="44" stroke="#555" stroke-width="0.6"/><text x="406.00" y="37.10" font-size="9.4" text-anchor="middle" fill="#231f20">0</text><line x1="448.30" y1="42.2" x2="448.30" y2="44" stroke="#555" stroke-width="0.6"/><text x="448.30" y="37.10" font-size="9.4" text-anchor="middle" fill="#231f20">5</text><rect x="363.30" y="70.40" width="110.00" height="149.40" fill="none" stroke="#6d6e71" stroke-width="0.6"/><line x1="376.80" y1="219.80" x2="376.80" y2="222.00" stroke="#6d6e71" stroke-width="0.6"/><text x="376.80" y="234.60" font-size="9.4" text-anchor="middle" fill="#231f20">1.60</text><line x1="408.90" y1="219.80" x2="408.90" y2="222.00" stroke="#6d6e71" stroke-width="0.6"/><text x="408.90" y="234.60" font-size="9.4" text-anchor="middle" fill="#231f20">1.65</text><line x1="441.00" y1="219.80" x2="441.00" y2="222.00" stroke="#6d6e71" stroke-width="0.6"/><text x="441.00" y="234.60" font-size="9.4" text-anchor="middle" fill="#231f20">1.70</text><line x1="473.10" y1="219.80" x2="473.10" y2="222.00" stroke="#6d6e71" stroke-width="0.6"/><text x="473.10" y="234.60" font-size="9.4" text-anchor="middle" fill="#231f20">1.75</text><text x="418.30" y="252.50" font-size="10.4" text-anchor="middle" fill="#231f20">Energy (eV)</text><text x="362.60" y="18.4" font-size="10.8" fill="#231f20">d(Δ<tspan font-style="italic">R</tspan>/<tspan font-style="italic">R</tspan><tspan font-size="6.8" dy="3">0</tspan><tspan dy="-3">)/d</tspan><tspan font-style="italic">V</tspan><tspan font-size="6.8" dy="3">g</tspan><tspan dy="-3"> (×10</tspan><tspan font-size="6.6" dy="-4.6">3</tspan><tspan dy="4.6"> V</tspan><tspan font-size="6.6" dy="-4.6">−1</tspan><tspan dy="4.6">)</tspan></text><text x="324.6" y="12.8" font-size="16" font-weight="bold" fill="#000">c</text><g clip-path="url(#clipd)"><g filter="url(#rdb)"><rect x="527.90" y="70.40" width="110.00" height="149.40" fill="#626262"/><rect x="527.90" y="70.40" width="110.00" height="149.40" filter="url(#noise)"/><rect x="529.90" y="70.40" width="8.00" height="33.40" fill="#737373" filter="url(#b2_0)"/><path d="M585.90,70.40 L589.90,103.80" fill="none" stroke="#4c4c4c" stroke-width="7" stroke-linecap="butt" stroke-linejoin="round" filter="url(#b2_0)"/><path d="M586.90,70.40 L588.90,85.00" fill="none" stroke="#424242" stroke-width="3" stroke-linecap="butt" stroke-linejoin="round" filter="url(#b1_2)"/><path d="M602.40,70.40 L604.40,103.80" fill="none" stroke="#4c4c4c" stroke-width="5" stroke-linecap="butt" stroke-linejoin="round" filter="url(#b1_8)"/><rect x="594.90" y="70.40" width="6.00" height="33.40" fill="#737373" filter="url(#b1_5)"/><rect x="567.90" y="70.40" width="14.00" height="33.40" fill="#707070" filter="url(#b2_0)"/><rect x="550.90" y="167.26" width="5.50" height="52.54" fill="#737373" filter="url(#b1_8)"/><rect x="597.60" y="138.87" width="6.30" height="80.93" fill="#757575" filter="url(#b1_8)"/><path d="M569.90,137.20 L579.90,170.60" fill="none" stroke="#525252" stroke-width="8" stroke-linecap="butt" stroke-linejoin="round" filter="url(#b2_6)"/><path d="M579.90,170.60 L584.90,219.80" fill="none" stroke="#525252" stroke-width="7" stroke-linecap="butt" stroke-linejoin="round" filter="url(#b2_0)"/><path d="M575.90,103.80 L582.90,127.18" fill="none" stroke="#404040" stroke-width="7" stroke-linecap="butt" stroke-linejoin="round" filter="url(#b1_8)"/><path d="M531.90,137.20 L533.90,219.80" fill="none" stroke="#5c5c5c" stroke-width="6" stroke-linecap="butt" stroke-linejoin="round" filter="url(#b2_0)"/><path d="M559.90,110.48 L563.90,137.20" fill="none" stroke="#545454" stroke-width="5" stroke-linecap="butt" stroke-linejoin="round" filter="url(#b2_0)"/><path d="M554.50,70.40 L554.00,90.00 L553.50,103.50" fill="none" stroke="url(#g39)" stroke-width="13.5" stroke-linecap="butt" stroke-linejoin="round" filter="url(#b1_2)"/><path d="M556.10,70.40 L554.10,85.00 L552.50,103.50" fill="none" stroke="url(#g40)" stroke-width="7" stroke-linecap="butt" stroke-linejoin="round" filter="url(#b0_9)"/><path d="M541.90,70.40 L543.50,80.00 L545.00,88.00 L546.50,96.00 L547.20,103.50" fill="none" stroke="url(#g41)" stroke-width="3.6" stroke-linecap="butt" stroke-linejoin="round" filter="url(#b0_9)"/><path d="M565.20,70.40 L565.80,80.00 L567.00,90.00 L568.50,103.50" fill="none" stroke="url(#g42)" stroke-width="4" stroke-linecap="butt" stroke-linejoin="round" filter="url(#b1_0)"/><path d="M548.60,104.00 L549.70,112.00 L550.40,120.00 L552.40,128.00 L554.10,137.00" fill="none" stroke="url(#g43)" stroke-width="3.4" stroke-linecap="butt" stroke-linejoin="round" filter="url(#b0_75)"/><path d="M553.80,105.00 L554.30,113.00" fill="none" stroke="url(#g44)" stroke-width="3" stroke-linecap="butt" stroke-linejoin="round" filter="url(#b0_9)"/><path d="M548.70,127.00 L548.90,137.50" fill="none" stroke="url(#g45)" stroke-width="2.8" stroke-linecap="butt" stroke-linejoin="round" filter="url(#b0_75)"/><path d="M591.10,104.00 L591.50,112.00 L592.00,122.00" fill="none" stroke="url(#g46)" stroke-width="5" stroke-linecap="butt" stroke-linejoin="round" filter="url(#b1_0)"/><path d="M598.70,104.00 L597.90,125.00 L597.10,137.00" fill="none" stroke="url(#g47)" stroke-width="5" stroke-linecap="butt" stroke-linejoin="round" filter="url(#b0_8)"/><path d="M605.10,104.00 L606.70,116.00 L609.00,127.00 L610.00,132.00" fill="none" stroke="url(#g48)" stroke-width="5.2" stroke-linecap="butt" stroke-linejoin="round" filter="url(#b0_9)"/><path d="M596.70,137.50 L595.70,150.00 L594.50,170.00 L593.00,195.00 L591.70,219.80" fill="none" stroke="url(#g49)" stroke-width="4.4" stroke-linecap="butt" stroke-linejoin="round" filter="url(#b0_8)"/><path d="M553.50,137.50 L554.00,142.00" fill="none" stroke="#333333" stroke-width="3" stroke-linecap="butt" stroke-linejoin="round" filter="url(#b0_8)"/><path d="M548.70,140.00 L548.70,165.00 L548.80,219.80" fill="none" stroke="url(#g50)" stroke-width="2.6" stroke-linecap="butt" stroke-linejoin="round" filter="url(#b0_8)"/><rect x="602.40" y="141.80" width="3.40" height="6.80" fill="#949494" filter="url(#b1_0)"/></g></g><g filter="url(#rdb)"><rect x="527.90" y="42.2" width="110.00" height="12.8" fill="url(#gcb)"/></g><rect x="527.90" y="42.2" width="110.00" height="12.8" fill="none" stroke="#555" stroke-width="0.6"/><line x1="528.20" y1="42.2" x2="528.20" y2="44" stroke="#555" stroke-width="0.6"/><text x="528.20" y="37.10" font-size="9.4" text-anchor="middle" fill="#231f20">−5</text><line x1="570.60" y1="42.2" x2="570.60" y2="44" stroke="#555" stroke-width="0.6"/><text x="570.60" y="37.10" font-size="9.4" text-anchor="middle" fill="#231f20">0</text><line x1="612.90" y1="42.2" x2="612.90" y2="44" stroke="#555" stroke-width="0.6"/><text x="612.90" y="37.10" font-size="9.4" text-anchor="middle" fill="#231f20">5</text><rect x="527.90" y="70.40" width="110.00" height="149.40" fill="none" stroke="#6d6e71" stroke-width="0.6"/><line x1="541.40" y1="219.80" x2="541.40" y2="222.00" stroke="#6d6e71" stroke-width="0.6"/><text x="541.40" y="234.60" font-size="9.4" text-anchor="middle" fill="#231f20">1.60</text><line x1="573.50" y1="219.80" x2="573.50" y2="222.00" stroke="#6d6e71" stroke-width="0.6"/><text x="573.50" y="234.60" font-size="9.4" text-anchor="middle" fill="#231f20">1.65</text><line x1="605.60" y1="219.80" x2="605.60" y2="222.00" stroke="#6d6e71" stroke-width="0.6"/><text x="605.60" y="234.60" font-size="9.4" text-anchor="middle" fill="#231f20">1.70</text><line x1="637.70" y1="219.80" x2="637.70" y2="222.00" stroke="#6d6e71" stroke-width="0.6"/><text x="637.70" y="234.60" font-size="9.4" text-anchor="middle" fill="#231f20">1.75</text><text x="582.90" y="252.50" font-size="10.4" text-anchor="middle" fill="#231f20">Energy (eV)</text><text x="527.20" y="18.4" font-size="10.8" fill="#231f20">d(Δ<tspan font-style="italic">R</tspan>/<tspan font-style="italic">R</tspan><tspan font-size="6.8" dy="3">0</tspan><tspan dy="-3">)/d</tspan><tspan font-style="italic">V</tspan><tspan font-size="6.8" dy="3">g</tspan><tspan dy="-3"> (×10</tspan><tspan font-size="6.6" dy="-4.6">3</tspan><tspan dy="4.6"> V</tspan><tspan font-size="6.6" dy="-4.6">−1</tspan><tspan dy="4.6">)</tspan></text><text x="499.4" y="12.8" font-size="16" font-weight="bold" fill="#000">d</text><line x1="34.00" y1="103.80" x2="144.00" y2="103.80" stroke="#ebe6f7" stroke-width="1.4"/><line x1="34.00" y1="137.20" x2="144.00" y2="137.20" stroke="#ebe6f7" stroke-width="1.4"/><line x1="34.00" y1="170.60" x2="144.00" y2="170.60" stroke="#ebe6f7" stroke-width="1.4"/><line x1="63.00" y1="71.60" x2="63.00" y2="219.80" stroke="#f4f0ff" stroke-width="2" stroke-dasharray="2 2.15"/><line x1="31.80" y1="70.40" x2="34.00" y2="70.40" stroke="#6d6e71" stroke-width="0.6"/><text x="26.90" y="73.70" font-size="9.4" text-anchor="end" fill="#231f20">0</text><line x1="31.80" y1="103.80" x2="34.00" y2="103.80" stroke="#6d6e71" stroke-width="0.6"/><text x="26.90" y="107.10" font-size="9.4" text-anchor="end" fill="#231f20">1</text><line x1="31.80" y1="137.20" x2="34.00" y2="137.20" stroke="#6d6e71" stroke-width="0.6"/><text x="26.90" y="140.50" font-size="9.4" text-anchor="end" fill="#231f20">2</text><line x1="31.80" y1="170.60" x2="34.00" y2="170.60" stroke="#6d6e71" stroke-width="0.6"/><text x="26.90" y="173.90" font-size="9.4" text-anchor="end" fill="#231f20">3</text><text x="65.20" y="217.90" font-size="11.2" text-anchor="start" fill="#ffffff"><tspan font-size="9">×</tspan>2</text><text x="141.60" y="214.40" font-size="10.8" text-anchor="end" fill="#ffffff"><tspan font-style="italic">V</tspan><tspan font-size="7.5" dy="3.8">E</tspan><tspan dy="-3.8"> = 0 V</tspan></text><text x="136.90" y="198.70" font-size="10.8" text-anchor="end" fill="#ffffff">5 T <tspan font-style="italic">σ</tspan></text><text x="136.60" y="194.20" font-size="7" text-anchor="start" fill="#ffffff">+</text><line x1="194.00" y1="103.80" x2="304.00" y2="103.80" stroke="#ebe6f7" stroke-width="1.4"/><line x1="194.00" y1="137.20" x2="304.00" y2="137.20" stroke="#ebe6f7" stroke-width="1.4"/><line x1="194.00" y1="170.60" x2="304.00" y2="170.60" stroke="#ebe6f7" stroke-width="1.4"/><line x1="223.00" y1="71.60" x2="223.00" y2="219.80" stroke="#f4f0ff" stroke-width="2" stroke-dasharray="2 2.15"/><line x1="191.80" y1="70.40" x2="194.00" y2="70.40" stroke="#6d6e71" stroke-width="0.6"/><text x="186.90" y="73.70" font-size="9.4" text-anchor="end" fill="#231f20">0</text><line x1="191.80" y1="103.80" x2="194.00" y2="103.80" stroke="#6d6e71" stroke-width="0.6"/><text x="186.90" y="107.10" font-size="9.4" text-anchor="end" fill="#231f20">1</text><line x1="191.80" y1="137.20" x2="194.00" y2="137.20" stroke="#6d6e71" stroke-width="0.6"/><text x="186.90" y="140.50" font-size="9.4" text-anchor="end" fill="#231f20">2</text><line x1="191.80" y1="170.60" x2="194.00" y2="170.60" stroke="#6d6e71" stroke-width="0.6"/><text x="186.90" y="173.90" font-size="9.4" text-anchor="end" fill="#231f20">3</text><text x="225.20" y="217.90" font-size="11.2" text-anchor="start" fill="#ffffff"><tspan font-size="9">×</tspan>2</text><text x="301.60" y="214.40" font-size="10.8" text-anchor="end" fill="#ffffff"><tspan font-style="italic">V</tspan><tspan font-size="7.5" dy="3.8">E</tspan><tspan dy="-3.8"> = 0 V</tspan></text><text x="296.90" y="198.70" font-size="10.8" text-anchor="end" fill="#ffffff">5 T <tspan font-style="italic">σ</tspan></text><text x="296.60" y="194.20" font-size="7" text-anchor="start" fill="#ffffff">−</text><line x1="363.30" y1="103.80" x2="473.30" y2="103.80" stroke="#333333" stroke-width="1.6"/><line x1="361.10" y1="103.80" x2="363.30" y2="103.80" stroke="#6d6e71" stroke-width="0.6"/><line x1="363.30" y1="137.20" x2="473.30" y2="137.20" stroke="#333333" stroke-width="1.6"/><line x1="361.10" y1="137.20" x2="363.30" y2="137.20" stroke="#6d6e71" stroke-width="0.6"/><line x1="363.30" y1="170.60" x2="473.30" y2="170.60" stroke="#333333" stroke-width="1.6"/><line x1="361.10" y1="170.60" x2="363.30" y2="170.60" stroke="#6d6e71" stroke-width="0.6"/><line x1="364.30" y1="81.53" x2="447.50" y2="81.53" stroke="#333333" stroke-width="1.55" stroke-dasharray="6.1 6.57"/><line x1="364.30" y1="92.67" x2="447.50" y2="92.67" stroke="#333333" stroke-width="1.55" stroke-dasharray="6.1 6.57"/><line x1="364.30" y1="114.93" x2="447.50" y2="114.93" stroke="#333333" stroke-width="1.55" stroke-dasharray="6.1 6.57"/><line x1="364.30" y1="126.07" x2="447.50" y2="126.07" stroke="#333333" stroke-width="1.55" stroke-dasharray="6.1 6.57"/><line x1="364.20" y1="87.10" x2="473.30" y2="87.10" stroke="#333333" stroke-width="1.5" stroke-dasharray="1.5 1.6"/><line x1="361.10" y1="87.10" x2="363.30" y2="87.10" stroke="#6d6e71" stroke-width="0.6"/><line x1="364.20" y1="120.50" x2="473.30" y2="120.50" stroke="#333333" stroke-width="1.5" stroke-dasharray="1.5 1.6"/><line x1="361.10" y1="120.50" x2="363.30" y2="120.50" stroke="#6d6e71" stroke-width="0.6"/><line x1="361.10" y1="70.40" x2="363.30" y2="70.40" stroke="#6d6e71" stroke-width="0.6"/><text x="355.20" y="73.70" font-size="9.4" text-anchor="end" fill="#231f20">0</text><text x="355.20" y="90.40" font-size="9.4" text-anchor="end" fill="#231f20">1/2</text><text x="355.20" y="107.10" font-size="9.4" text-anchor="end" fill="#231f20">1</text><text x="355.20" y="123.80" font-size="9.4" text-anchor="end" fill="#231f20">3/2</text><text x="355.20" y="140.50" font-size="9.4" text-anchor="end" fill="#231f20">2</text><text x="355.20" y="173.90" font-size="9.4" text-anchor="end" fill="#231f20">3</text><text x="468.90" y="85.80" font-size="10.4" text-anchor="end" fill="#231f20">1/3</text><text x="468.90" y="96.10" font-size="10.4" text-anchor="end" fill="#231f20">2/3</text><text x="468.90" y="120.40" font-size="10.4" text-anchor="end" fill="#231f20">4/3</text><text x="468.90" y="130.60" font-size="10.4" text-anchor="end" fill="#231f20">5/3</text><text x="470.90" y="214.40" font-size="10.8" text-anchor="end" fill="#231f20"><tspan font-style="italic">V</tspan><tspan font-size="7.5" dy="3.8">E</tspan><tspan dy="-3.8"> = 0 V</tspan></text><text x="466.20" y="198.70" font-size="10.8" text-anchor="end" fill="#231f20">5 T <tspan font-style="italic">σ</tspan></text><text x="465.90" y="194.20" font-size="7" text-anchor="start" fill="#231f20">+</text><line x1="527.90" y1="103.80" x2="637.90" y2="103.80" stroke="#333333" stroke-width="1.6"/><line x1="525.70" y1="103.80" x2="527.90" y2="103.80" stroke="#6d6e71" stroke-width="0.6"/><line x1="527.90" y1="137.20" x2="637.90" y2="137.20" stroke="#333333" stroke-width="1.6"/><line x1="525.70" y1="137.20" x2="527.90" y2="137.20" stroke="#6d6e71" stroke-width="0.6"/><line x1="527.90" y1="170.60" x2="637.90" y2="170.60" stroke="#333333" stroke-width="1.6"/><line x1="525.70" y1="170.60" x2="527.90" y2="170.60" stroke="#6d6e71" stroke-width="0.6"/><line x1="528.90" y1="81.53" x2="612.10" y2="81.53" stroke="#333333" stroke-width="1.55" stroke-dasharray="6.1 6.57"/><line x1="528.90" y1="92.67" x2="612.10" y2="92.67" stroke="#333333" stroke-width="1.55" stroke-dasharray="6.1 6.57"/><line x1="528.90" y1="114.93" x2="612.10" y2="114.93" stroke="#333333" stroke-width="1.55" stroke-dasharray="6.1 6.57"/><line x1="528.90" y1="126.07" x2="612.10" y2="126.07" stroke="#333333" stroke-width="1.55" stroke-dasharray="6.1 6.57"/><line x1="528.80" y1="87.10" x2="637.90" y2="87.10" stroke="#333333" stroke-width="1.5" stroke-dasharray="1.5 1.6"/><line x1="525.70" y1="87.10" x2="527.90" y2="87.10" stroke="#6d6e71" stroke-width="0.6"/><line x1="528.80" y1="120.50" x2="637.90" y2="120.50" stroke="#333333" stroke-width="1.5" stroke-dasharray="1.5 1.6"/><line x1="525.70" y1="120.50" x2="527.90" y2="120.50" stroke="#6d6e71" stroke-width="0.6"/><line x1="525.70" y1="70.40" x2="527.90" y2="70.40" stroke="#6d6e71" stroke-width="0.6"/><text x="519.80" y="73.70" font-size="9.4" text-anchor="end" fill="#231f20">0</text><text x="519.80" y="90.40" font-size="9.4" text-anchor="end" fill="#231f20">1/2</text><text x="519.80" y="107.10" font-size="9.4" text-anchor="end" fill="#231f20">1</text><text x="519.80" y="123.80" font-size="9.4" text-anchor="end" fill="#231f20">3/2</text><text x="519.80" y="140.50" font-size="9.4" text-anchor="end" fill="#231f20">2</text><text x="519.80" y="173.90" font-size="9.4" text-anchor="end" fill="#231f20">3</text><text x="633.50" y="85.80" font-size="10.4" text-anchor="end" fill="#231f20">1/3</text><text x="633.50" y="96.10" font-size="10.4" text-anchor="end" fill="#231f20">2/3</text><text x="633.50" y="120.40" font-size="10.4" text-anchor="end" fill="#231f20">4/3</text><text x="633.50" y="130.60" font-size="10.4" text-anchor="end" fill="#231f20">5/3</text><text x="635.50" y="214.40" font-size="10.8" text-anchor="end" fill="#231f20"><tspan font-style="italic">V</tspan><tspan font-size="7.5" dy="3.8">E</tspan><tspan dy="-3.8"> = 0 V</tspan></text><text x="630.80" y="198.70" font-size="10.8" text-anchor="end" fill="#231f20">5 T <tspan font-style="italic">σ</tspan></text><text x="630.50" y="194.20" font-size="7" text-anchor="start" fill="#231f20">−</text><text transform="translate(9.4,149.8) rotate(-90)" font-size="12" fill="#231f20"><tspan font-style="italic">υ</tspan><tspan font-size="8" dx="-1.4" dy="3.4">h</tspan></text><text transform="translate(332.6,150.3) rotate(-90)" font-size="12" fill="#231f20"><tspan font-style="italic">υ</tspan><tspan font-size="8" dx="-1.4" dy="3.4">h</tspan></text><text x="78.60" y="92.00" font-size="9.6" fill="#ffffff">X</text><text x="85.30" y="88.10" font-size="6.2" fill="#ffffff">0</text><text x="85.30" y="94.40" font-size="6.2" fill="#ffffff">W,L1</text><text x="111.50" y="92.00" font-size="9.6" fill="#ffffff">X</text><text x="118.20" y="88.10" font-size="6.2" fill="#ffffff">0</text><text x="118.20" y="94.40" font-size="6.2" fill="#ffffff">W,L2</text><text x="64.60" y="133.30" font-size="9.2" fill="#ffffff">AP</text><text x="77.17" y="129.40" font-size="6.2" fill="#ffffff">+</text><text x="77.17" y="135.70" font-size="6.2" fill="#ffffff">W,L1</text><text x="112.60" y="153.50" font-size="9.2" fill="#ffffff">AP</text><text x="125.17" y="149.60" font-size="6.2" fill="#ffffff">+</text><text x="125.17" y="155.90" font-size="6.2" fill="#ffffff">W,L2</text><line x1="69.40" y1="136.80" x2="80.65" y2="146.21" stroke="#fff" stroke-width="1.3"/><path d="M84.10,149.10 L78.92,147.50 L81.61,144.28 Z" fill="#fff"/><line x1="119.00" y1="161.50" x2="108.24" y2="154.30" stroke="#fff" stroke-width="1.3"/><path d="M104.50,151.80 L109.82,152.83 L107.49,156.33 Z" fill="#fff"/><line x1="649.6" y1="76" x2="649.6" y2="98" stroke="#ff00ff" stroke-width="1.1" stroke-dasharray="2 1.6"/><line x1="659.7" y1="109" x2="659.7" y2="130" stroke="#9933cc" stroke-width="1.1" stroke-dasharray="2 1.6"/><rect x="644.40" y="64.50" width="10.40" height="11.00" fill="#fff" stroke="#000" stroke-width="1.5"/><rect x="654.80" y="64.50" width="10.20" height="11.00" fill="#fff" stroke="#000" stroke-width="1.5"/><rect x="667.60" y="64.50" width="16.40" height="11.00" fill="#fff" stroke="#000" stroke-width="1.5"/><circle cx="649.6" cy="70.0" r="3.2" fill="none" stroke="#ff00ff" stroke-width="1"/><circle cx="659.8" cy="70.0" r="3.2" fill="none" stroke="#9933cc" stroke-width="1"/><circle cx="672.4" cy="70.0" r="3.4" fill="none" stroke="#ff1a1a" stroke-width="1"/><circle cx="679.3" cy="70.0" r="3.4" fill="none" stroke="#ff1a1a" stroke-width="1"/><rect x="644.40" y="98.10" width="10.40" height="11.00" fill="#fff" stroke="#000" stroke-width="1.5"/><rect x="654.80" y="98.10" width="10.20" height="11.00" fill="#fff" stroke="#000" stroke-width="1.5"/><rect x="667.60" y="98.10" width="16.40" height="11.00" fill="#fff" stroke="#000" stroke-width="1.5"/><circle cx="649.6" cy="103.6" r="3.6" fill="#ff00ff"/><circle cx="659.8" cy="103.6" r="3.2" fill="none" stroke="#9933cc" stroke-width="1"/><circle cx="672.4" cy="103.6" r="3.4" fill="none" stroke="#ff1a1a" stroke-width="1"/><circle cx="679.3" cy="103.6" r="3.4" fill="none" stroke="#ff1a1a" stroke-width="1"/><rect x="644.40" y="129.40" width="10.40" height="11.00" fill="#fff" stroke="#000" stroke-width="1.5"/><rect x="654.80" y="129.40" width="10.20" height="11.00" fill="#fff" stroke="#000" stroke-width="1.5"/><rect x="667.60" y="129.40" width="16.40" height="11.00" fill="#fff" stroke="#000" stroke-width="1.5"/><circle cx="649.6" cy="134.9" r="3.6" fill="#ff00ff"/><circle cx="659.8" cy="134.9" r="3.6" fill="#8a0fb0"/><circle cx="672.4" cy="134.9" r="3.4" fill="none" stroke="#ff1a1a" stroke-width="1"/><circle cx="679.3" cy="134.9" r="3.4" fill="none" stroke="#ff1a1a" stroke-width="1"/><text x="646.60" y="62.00" font-size="9.0" text-anchor="start" fill="#ff00ff">A</text><text x="656.90" y="62.00" font-size="9.0" text-anchor="start" fill="#9933cc">B</text><text x="649.4" y="47.6" font-size="11" fill="#231f20"><tspan font-style="italic">ν</tspan><tspan font-size="7" dy="2">Γ</tspan></text><text x="671.2" y="53.7" font-size="11" fill="#231f20"><tspan font-style="italic">ν</tspan><tspan font-size="7" dy="2">K</tspan></text></svg></body></html>
